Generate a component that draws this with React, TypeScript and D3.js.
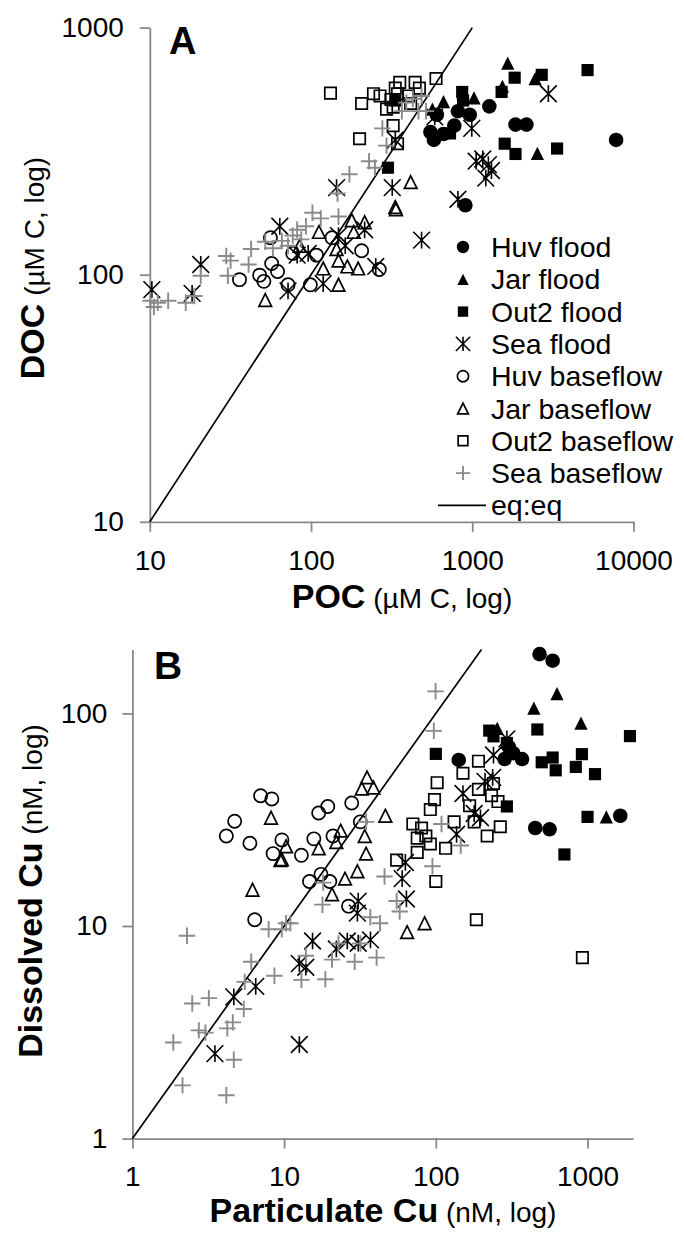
import React, { useEffect, useRef } from "react";
import * as d3 from "d3";

type Pt = [number, number];

const width = 685;
const height = 1235;
const FONT = "'Liberation Sans', Arial, sans-serif";
const AXIS = "#898989";
const GREY = "#8a8a8a";

const seriesNames = [
  "Huv flood",
  "Jar flood",
  "Out2 flood",
  "Sea flood",
  "Huv baseflow",
  "Jar baseflow",
  "Out2 baseflow",
  "Sea baseflow",
];
const eqName = "eq:eq";

// panel A: POC (x) vs DOC (y), µM C
const aHuvFlood: Pt[] = [
  [1276, 480], [815, 459], [964, 444], [550, 378], [578, 351], [663, 371],
  [774, 401], [603, 444], [1854, 405], [2168, 405], [7800, 351], [906, 191],
];
const aJarFlood: Pt[] = [
  [1660, 718], [1538, 579], [2455, 622], [2535, 310], [566, 468], [663, 502],
  [877, 540], [1025, 520],
];
const aOut2Flood: Pt[] = [
  [1832, 627], [1520, 549], [2697, 644], [5190, 673], [1589, 339], [1854, 308],
  [3357, 324], [866, 549], [877, 507], [728, 373], [300, 271], [333, 507],
];
const aSeaFlood: Pt[] = [
  [2965, 540], [993, 391], [1057, 288], [1161, 294], [1259, 279], [1315, 264],
  [1213, 246], [815, 202], [485, 138], [319, 225], [333, 351], [585, 435],
  [144, 225], [64, 157], [20.7, 110], [18.3, 84], [10.3, 87], [72, 86],
  [82, 120], [96, 122], [119, 92], [148, 144], [163, 131], [215, 152], [252, 108],
];
const aHuvBase: Pt[] = [
  [36, 95.5], [48, 99.6], [51, 94], [57, 111], [62, 103], [72, 91], [56, 141],
  [77, 122], [99, 91], [108, 120], [135, 141], [206, 125], [265, 105],
];
const aJarBase: Pt[] = [
  [52, 79], [148, 91], [415, 237], [333, 188], [336, 184], [112, 149], [179, 166],
  [215, 163], [184, 149], [144, 127], [148, 114], [119, 106], [168, 108],
  [196, 106], [85, 131],
];
const aOut2Base: Pt[] = [
  [132, 543], [206, 493], [244, 540], [268, 529], [313, 512], [355, 600],
  [442, 600], [470, 569], [596, 622], [323, 476], [294, 468], [344, 540],
  [402, 529], [415, 493], [323, 401], [200, 355], [344, 339], [333, 569],
];
const aSeaBase: Pt[] = [
  [10.1, 78.5], [10.6, 74], [11.2, 77], [13, 78.5], [16.7, 77], [18.9, 82],
  [20.7, 99], [29.8, 119], [31.7, 114], [30.5, 99], [41, 110], [42.5, 127],
  [52, 136], [58, 128], [66, 137], [72, 131], [77, 144], [82, 152], [93, 157],
  [102, 178], [115, 169], [148, 172], [146, 213], [173, 255], [229, 288],
  [249, 271], [277, 391], [294, 333], [366, 459], [390, 497], [428, 515],
  [464, 459], [516, 459], [485, 529], [87, 139],
];

// panel B: particulate Cu (x) vs dissolved Cu (y), nM
const bHuvFlood: Pt[] = [
  [483, 190], [589, 177], [141.6, 60.4], [284, 61], [324, 65], [370, 61],
  [303, 69.5], [452, 28.9], [562, 28.5], [1644, 33],
];
const bJarFlood: Pt[] = [[629, 124], [443, 106], [906, 90], [1330, 32.6], [254, 85]];
const bOut2Flood: Pt[] = [
  [225, 83], [240, 78], [294, 72.6], [100, 64.5], [467, 84], [499, 58.9],
  [589, 62], [617, 54], [837, 56], [918, 64.3], [1120, 51.8], [1904, 78.2],
  [1000, 32.6], [704, 21.7], [294, 36.5],
];
const bSeaFlood: Pt[] = [
  [3.5, 2.51], [4.66, 4.64], [6.5, 5.2], [12.6, 2.77], [12.6, 6.65], [13.9, 6.4],
  [15.4, 8.5], [22.1, 7.8], [26.1, 8.5], [30.8, 8.3], [37.1, 8.6], [30.8, 13.1],
  [30.4, 11.5], [63, 19.9], [60, 16.7], [64, 13.4], [137, 27], [151, 42],
  [179, 33.8], [197, 32.3], [240, 63.7], [294, 75.9], [211, 47.9], [237, 50],
];
const bHuvBase: Pt[] = [
  [4.16, 26.5], [4.72, 31.1], [5.95, 24.5], [6.4, 10.7], [7.0, 41], [8.3, 39.6],
  [9.67, 25.4], [8.46, 21.9], [13.0, 21.5], [15.7, 25.7], [16.9, 34], [19.4, 36.5],
  [21, 26.5], [27.9, 37.9], [31.8, 30.9], [14.7, 16.2], [17.5, 17.5], [20, 16.2],
  [26.6, 12.4],
];
const bJarBase: Pt[] = [
  [8.2, 32.3], [10.3, 23.7], [9.66, 20.6], [9.46, 20.4], [6.19, 14.8], [16.9, 23.2],
  [20.7, 14.1], [23.6, 28.1], [25.2, 16.7], [30.4, 18.1], [34.7, 21.9], [34, 26.5],
  [32.5, 44.3], [35.2, 50], [38.8, 44.8], [46.5, 33], [22.1, 24.8], [64.7, 9.36],
  [84.4, 10.3],
];
const bOut2Base: Pt[] = [
  [100, 16.2], [185, 10.7], [925, 7.1], [55.2, 20.4], [75.4, 22.2], [70.6, 30.2],
  [80.5, 28.9], [75.4, 25.9], [86, 26.5], [92, 24.3], [92, 35.3], [98, 39.3],
  [102, 47.2], [116, 23.2], [132, 30.9], [151, 52.3], [191, 59.6], [167, 36.8],
  [191, 43.9], [218, 26.5], [233, 41], [240, 46.8], [266, 29.3], [257, 38.5],
  [179, 30.9],
];
const bSeaBase: Pt[] = [
  [99.6, 127], [97, 82.8], [1.86, 2.83], [2.14, 1.78], [2.29, 9.0], [2.48, 4.32],
  [3.19, 4.58], [2.74, 3.23], [3.03, 3.15], [4.22, 3.3], [4.59, 3.52], [4.66, 2.35],
  [4.16, 1.6], [5.42, 4.07], [6.07, 6.79], [5.5, 5.46], [8.63, 5.83], [7.91, 9.66],
  [9.66, 9.66], [10.3, 10.3], [11, 10.3], [13, 5.58], [13.9, 7.24], [18.7, 5.62],
  [17.9, 12.6], [18.1, 16], [20.7, 6.95], [22.8, 8.28], [29.2, 6.79], [31.8, 8.28],
  [37, 11], [40.7, 7.1], [42.9, 10.3], [45.9, 17.1], [55.2, 13.1], [57.8, 11.7],
  [95, 19.1], [109, 30.2], [146, 23.9], [34.7, 30.9],
];

const aTicksX = [10, 100, 1000, 10000];
const aTicksY = [10, 100, 1000];
const bTicksX = [1, 10, 100, 1000];
const bTicksY = [1, 10, 100];
const aEq = [10, 1000];
const bEq = [1, 200];

// excel-like marker shapes (size = bounding box side squared)
const starType: d3.SymbolType = {
  draw(ctx, size) {
    const h = Math.sqrt(size) / 2;
    ctx.moveTo(-h, -h);
    ctx.lineTo(h, h);
    ctx.moveTo(-h, h);
    ctx.lineTo(h, -h);
    ctx.moveTo(0, -h);
    ctx.lineTo(0, h);
  },
};
const plusType: d3.SymbolType = {
  draw(ctx, size) {
    const h = Math.sqrt(size) / 2;
    ctx.moveTo(-h, 0);
    ctx.lineTo(h, 0);
    ctx.moveTo(0, -h);
    ctx.lineTo(0, h);
  },
};
const triType: d3.SymbolType = {
  draw(ctx, size) {
    const h = Math.sqrt(size) / 2;
    ctx.moveTo(0, -h);
    ctx.lineTo(h, h);
    ctx.lineTo(-h, h);
    ctx.closePath();
  },
};

const styles = [
  { type: d3.symbolCircle, size: 167, fill: "#000", stroke: "none", sw: 0 },
  { type: triType, size: 175, fill: "#000", stroke: "none", sw: 0 },
  { type: d3.symbolSquare, size: 148, fill: "#000", stroke: "none", sw: 0 },
  { type: starType, size: 280, fill: "none", stroke: "#000", sw: 1.6 },
  { type: d3.symbolCircle, size: 137, fill: "none", stroke: "#000", sw: 1.7 },
  { type: triType, size: 160, fill: "none", stroke: "#000", sw: 1.7 },
  { type: d3.symbolSquare, size: 130, fill: "none", stroke: "#000", sw: 1.7 },
  { type: plusType, size: 270, fill: "none", stroke: GREY, sw: 1.9 },
];

const aSeries = [aHuvFlood, aJarFlood, aOut2Flood, aSeaFlood, aHuvBase, aJarBase, aOut2Base, aSeaBase];
const bSeries = [bHuvFlood, bJarFlood, bOut2Flood, bSeaFlood, bHuvBase, bJarBase, bOut2Base, bSeaBase];

const xA = d3.scaleLog().domain([10, 10000]).range([149.8, 633.5]);
const yA = d3.scaleLog().domain([10, 1000]).range([521.8, 27.6]);
const xB = d3.scaleLog().domain([1, 2000]).range([132.4, 633.2]);
const yB = d3.scaleLog().domain([1, 200]).range([1138.6, 649.4]);

const symbolPath = (i: number, k = 1) =>
  d3.symbol().type(styles[i].type).size(styles[i].size * k * k)() as string;

const Marks = ({ series, x, y }: { series: Pt[][]; x: any; y: any }) => (
  <g>
    {series.map((pts, i) => (
      <g key={i}>
        {pts.map((d, j) => (
          <path
            key={j}
            transform={`translate(${x(d[0])},${y(d[1])})`}
            d={symbolPath(i)}
            fill={styles[i].fill}
            stroke={styles[i].stroke}
            strokeWidth={styles[i].sw}
          />
        ))}
      </g>
    ))}
  </g>
);

const App = () => {
  const axA = useRef<SVGGElement>(null);
  const ayA = useRef<SVGGElement>(null);
  const axB = useRef<SVGGElement>(null);
  const ayB = useRef<SVGGElement>(null);

  useEffect(() => {
    const fmt = d3.format("d");
    const style = (el: SVGGElement | null, axis: any) => {
      const g = d3.select(el).call(axis);
      g.attr("font-size", 28).attr("font-family", FONT).attr("color", AXIS);
      g.selectAll("text").attr("fill", "#000");
      g.selectAll("line, path").attr("stroke-width", 1.8);
    };
    style(axA.current, d3.axisBottom(xA).tickValues(aTicksX).tickFormat(fmt).tickSize(10).tickSizeOuter(0).tickPadding(18));
    style(ayA.current, d3.axisLeft(yA).tickValues(aTicksY).tickFormat(fmt).tickSize(10).tickSizeOuter(0).tickPadding(16));
    style(axB.current, d3.axisBottom(xB).tickValues(bTicksX).tickFormat(fmt).tickSize(10).tickSizeOuter(0).tickPadding(18));
    style(ayB.current, d3.axisLeft(yB).tickValues(bTicksY).tickFormat(fmt).tickSize(10).tickSizeOuter(0).tickPadding(15));
  }, []);

  const eqLineA = d3.line<number>().x((d) => xA(d)).y((d) => yA(d));
  const eqLineB = d3.line<number>().x((d) => xB(d)).y((d) => yB(d));

  const legX = 463;
  const legY0 = 247;
  const legStep = 32.3;

  return (
    <svg
      width={width}
      height={height}
      style={{ position: "absolute", left: 0, top: 0, background: "#fff" }}
      fontFamily={FONT}
    >
      <rect width={width} height={height} fill="#fff" />

      {/* panel A */}
      <g ref={ayA} transform={`translate(${xA.range()[0]},0)`} />
      <g ref={axA} transform={`translate(0,${yA.range()[0]})`} />
      <path d={eqLineA(aEq) as string} stroke="#000" strokeWidth={1.7} fill="none" />
      <Marks series={aSeries} x={xA} y={yA} />
      <text x={169} y={54} fontSize={38} fontWeight="bold">A</text>
      <text x={402} y={608} textAnchor="middle" fontSize={28}>
        <tspan fontWeight="bold" fontSize={34}>POC</tspan>
        {" (µM C, log)"}
      </text>
      <text transform="translate(43.5,268) rotate(-90)" textAnchor="middle" fontSize={28}>
        <tspan fontWeight="bold" fontSize={34}>DOC</tspan>
        {" (µM C, log)"}
      </text>

      {/* legend */}
      <g>
        {seriesNames.map((name, i) => (
          <g key={name} transform={`translate(0,${legY0 + i * legStep})`}>
            <path
              transform={`translate(${legX},0)`}
              d={symbolPath(i, 0.85)}
              fill={styles[i].fill}
              stroke={styles[i].stroke}
              strokeWidth={styles[i].sw}
            />
            <text x={491} y={10} fontSize={28.5}>{name}</text>
          </g>
        ))}
        <g transform={`translate(0,${legY0 + 8 * legStep})`}>
          <line x1={438} x2={486} y1={0} y2={0} stroke="#000" strokeWidth={1.7} />
          <text x={491} y={10} fontSize={28.5}>{eqName}</text>
        </g>
      </g>

      {/* panel B */}
      <g ref={ayB} transform={`translate(${xB.range()[0]},0)`} />
      <g ref={axB} transform={`translate(0,${yB.range()[0]})`} />
      <path d={eqLineB(bEq) as string} stroke="#000" strokeWidth={1.7} fill="none" />
      <Marks series={bSeries} x={xB} y={yB} />
      <text x={154} y={679} fontSize={39} fontWeight="bold">B</text>
      <text x={383} y={1222} textAnchor="middle" fontSize={28}>
        <tspan fontWeight="bold" fontSize={34}>Particulate Cu</tspan>
        {" (nM, log)"}
      </text>
      <text transform="translate(41.5,891) rotate(-90)" textAnchor="middle" fontSize={28}>
        <tspan fontWeight="bold" fontSize={34}>Dissolved Cu</tspan>
        {" (nM, log)"}
      </text>
    </svg>
  );
};

export default App;
